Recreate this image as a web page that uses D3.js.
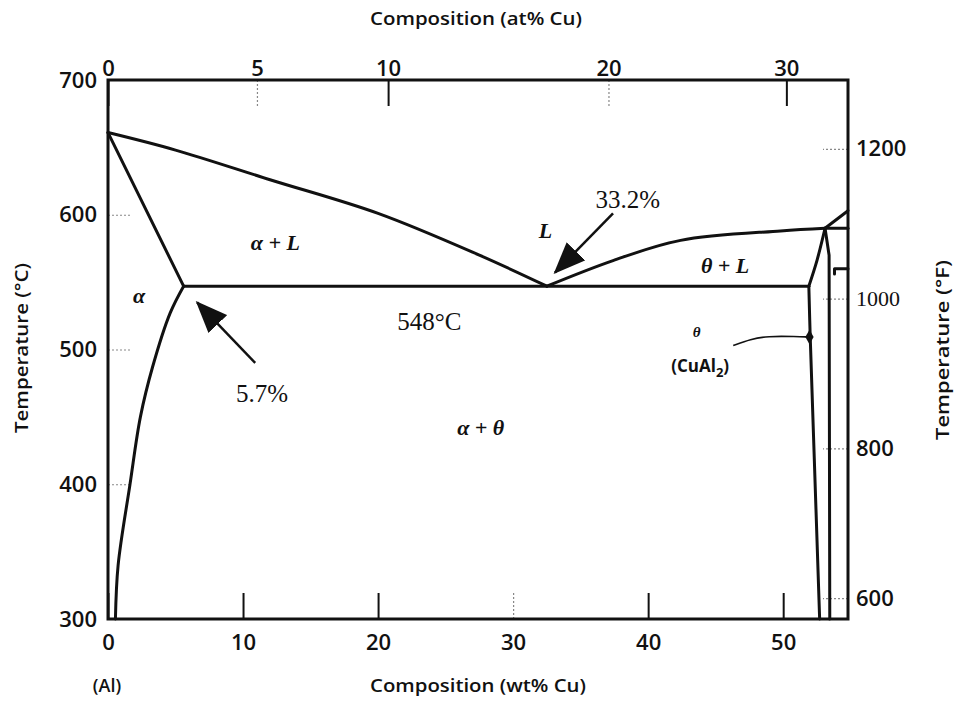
<!DOCTYPE html>
<html>
<head>
<meta charset="utf-8">
<title>Al-Cu phase diagram</title>
<script src="https://cdn.jsdelivr.net/npm/d3@7"></script>
<style>
    body { margin: 0; background: #fff; }
    text { font-family: "Open Sans", sans-serif; fill: #111; }
    .tick text { font-size: 22px; font-weight: 600; }
    .phase { fill: none; stroke: #111; stroke-width: 3; stroke-linejoin: round; stroke-linecap: round; }
    .serif { font-family: "Liberation Serif", serif; }
</style>
</head>
<body>
<div id="chart"></div>
<script>
    // tick values
    const wtTicks = [0, 10, 20, 30, 40, 50];
    const atTicks = [0, 5, 10, 20, 30];
    const cTicks = [300, 400, 500, 600, 700];
    const fTicks = [600, 800, 1000, 1200];

    // phase boundaries, [wt% Cu, temperature °C]
    const liquidusAl = [[0, 661], [5, 648], [12, 626], [20, 601], [27.5, 570], [32.5, 547]];
    const solidusAl = [[0, 661], [5.6, 547]];
    const solvusAl = [[5.6, 547], [4.6, 527], [3.3, 487], [2.4, 450], [1.63, 400], [0.75, 340], [0.55, 300]];
    const eutectic = [[5.6, 547], [51.9, 547]];
    const liquidusTheta = [[32.5, 547], [37.4, 566], [42.4, 581], [49.8, 588], [53.1, 590]];
    const thetaUpper = [[53.1, 590], [52.5, 566], [51.9, 547]];
    const thetaLeft = [[51.9, 547], [52.0, 510], [52.3, 420], [52.7, 300]];
    const thetaRight = [[53.1, 590], [53.4, 570], [53.45, 300]];
    const liquidusCu = [[53.1, 590], [54.8, 603]];
    const peritectic = [[53.1, 590], [54.8, 590]];
    const shortLine = [[53.8, 556], [53.8, 560], [54.8, 560]];

    // annotations
    const arrows = [
        {from: [10.9, 490], to: [6.6, 535]},
        {from: [37.4, 601], to: [33.1, 557]}
    ];
    const leader = [[46.3, 503], [47.6, 507.5], [48.8, 510], [51.0, 509.6], [51.8, 509.3]];
    const phaseLabels = [
        {text: 'α + L', at: [12.4, 574]},
        {text: 'L', at: [32.4, 583]},
        {text: 'θ + L', at: [45.7, 557]},
        {text: 'α', at: [2.3, 534.5]},
        {text: 'α + θ', at: [27.6, 436.5]}
    ];
    const valueLabels = [
        {text: '548°C', at: [23.8, 514.5]},
        {text: '5.7%', at: [11.4, 461]},
        {text: '33.2%', at: [38.5, 605]}
    ];

    const width = 959;
    const height = 701;

    const x = d3.scaleLinear().domain([0, 54.8]).range([108, 848]);
    const y = d3.scaleLinear().domain([300, 700]).range([619, 80]);
    const yF = d3.scaleLinear().domain([300 * 9 / 5 + 32, 700 * 9 / 5 + 32]).range([619, 80]);

    // at% -> wt% for the top axis
    const atToWt = a => 100 * a * 63.55 / (a * 63.55 + (100 - a) * 26.98);

    const svg = d3.select('#chart').append('svg').attr('width', width).attr('height', height);

    const defs = svg.append('defs');
    defs.append('marker')
        .attr('id', 'head')
        .attr('markerUnits', 'userSpaceOnUse')
        .attr('markerWidth', 32).attr('markerHeight', 26)
        .attr('refX', 30).attr('refY', 13)
        .attr('orient', 'auto')
        .append('path').attr('d', 'M0,0 L32,13 L0,26 Z').attr('fill', '#111');

    function styleTicks(g, dotted) {
        g.select('.domain').remove();
        g.selectAll('.tick line')
            .attr('stroke', '#111').attr('stroke-width', 2);
        g.selectAll('.tick').filter(dotted).select('line')
            .attr('stroke', '#888').attr('stroke-width', 1.2).attr('stroke-dasharray', '2,2');
    }

    // bottom axis (wt%)
    svg.append('g').attr('transform', 'translate(0,619)')
        .call(d3.axisBottom(x).tickValues(wtTicks).tickSizeInner(-26).tickSizeOuter(0).tickPadding(15))
        .call(g => styleTicks(g, d => d === 30));

    // top axis (at%)
    svg.append('g').attr('transform', 'translate(0,80)')
        .call(d3.axisTop(x).tickValues(atTicks.map(atToWt)).tickFormat((d, i) => atTicks[i])
            .tickSizeInner(-26).tickSizeOuter(0).tickPadding(4))
        .call(g => styleTicks(g, (d, i) => i === 1 || i === 3));

    // left axis (°C)
    svg.append('g').attr('transform', 'translate(108,0)')
        .call(d3.axisLeft(y).tickValues(cTicks).tickSizeInner(-24).tickSizeOuter(0).tickPadding(11))
        .call(g => styleTicks(g, () => true));

    // right axis (°F)
    svg.append('g').attr('transform', 'translate(848,0)')
        .call(d3.axisRight(yF).tickValues(fTicks).tickFormat(d3.format('d'))
            .tickSizeInner(-25).tickSizeOuter(0).tickPadding(8))
        .call(g => styleTicks(g, () => true));
    svg.selectAll('.tick text').filter(d => d === 1000).attr('class', 'serif').style('font-weight', 400);

    // frame
    svg.append('rect')
        .attr('x', x(0)).attr('y', y(700))
        .attr('width', x(54.8) - x(0)).attr('height', y(300) - y(700))
        .attr('fill', 'none').attr('stroke', '#111').attr('stroke-width', 3);

    // phase boundaries
    const smooth = d3.line().x(d => x(d[0])).y(d => y(d[1])).curve(d3.curveCatmullRom);
    const straight = d3.line().x(d => x(d[0])).y(d => y(d[1]));

    [liquidusAl, solvusAl, liquidusTheta, thetaUpper, thetaLeft].forEach(pts => {
        svg.append('path').attr('class', 'phase').attr('d', smooth(pts));
    });
    [solidusAl, eutectic, thetaRight, liquidusCu, peritectic].forEach(pts => {
        svg.append('path').attr('class', 'phase').attr('d', straight(pts));
    });
    svg.append('path').attr('class', 'phase').attr('stroke-width', 2).attr('d', straight(shortLine));

    // arrows
    arrows.forEach(a => {
        svg.append('line')
            .attr('x1', x(a.from[0])).attr('y1', y(a.from[1]))
            .attr('x2', x(a.to[0])).attr('y2', y(a.to[1]))
            .attr('stroke', '#111').attr('stroke-width', 2.5)
            .attr('marker-end', 'url(#head)');
    });

    // theta leader
    svg.append('path')
        .attr('d', d3.line().x(d => x(d[0])).y(d => y(d[1])).curve(d3.curveBasis)(leader))
        .attr('fill', 'none').attr('stroke', '#111').attr('stroke-width', 1.6);
    const dot = leader[leader.length - 1];
    svg.append('path')
        .attr('transform', `translate(${x(dot[0]) + 2},${y(dot[1])})`)
        .attr('d', d3.symbol(d3.symbolDiamond, 60)())
        .attr('fill', '#111');

    // labels
    svg.selectAll('.phase-label').data(phaseLabels).enter().append('text')
        .attr('class', 'serif')
        .attr('x', d => x(d.at[0])).attr('y', d => y(d.at[1]))
        .attr('text-anchor', 'middle')
        .style('font-size', '22px').style('font-style', 'italic').style('font-weight', 700)
        .text(d => d.text);

    svg.selectAll('.value-label').data(valueLabels).enter().append('text')
        .attr('class', 'serif')
        .attr('x', d => x(d.at[0])).attr('y', d => y(d.at[1]))
        .attr('text-anchor', 'middle')
        .style('font-size', '25px')
        .text(d => d.text);

    svg.append('text').attr('class', 'serif')
        .attr('x', x(43.6)).attr('y', y(509.5))
        .attr('text-anchor', 'middle')
        .style('font-size', '15px').style('font-style', 'italic').style('font-weight', 700)
        .text('θ');

    const cu = svg.append('text')
        .attr('x', x(43.85)).attr('y', y(483.5))
        .attr('text-anchor', 'middle')
        .style('font-size', '17px').style('font-weight', 700);
    cu.append('tspan').text('(CuAl');
    cu.append('tspan').attr('dy', 5).style('font-size', '13px').text('2');
    cu.append('tspan').attr('dy', -5).text(')');

    // axis titles
    svg.append('text')
        .attr('x', 476).attr('y', 25).attr('text-anchor', 'middle')
        .attr('textLength', 212).attr('lengthAdjust', 'spacingAndGlyphs')
        .style('font-size', '18px').style('font-weight', 600)
        .text('Composition (at% Cu)');

    svg.append('text')
        .attr('x', 478).attr('y', 692).attr('text-anchor', 'middle')
        .attr('textLength', 216).attr('lengthAdjust', 'spacingAndGlyphs')
        .style('font-size', '18px').style('font-weight', 600)
        .text('Composition (wt% Cu)');

    svg.append('text')
        .attr('x', 107).attr('y', 692).attr('text-anchor', 'middle')
        .style('font-size', '18px').style('font-weight', 600)
        .text('(Al)');

    svg.append('text')
        .attr('transform', 'translate(28,348) rotate(-90)')
        .attr('text-anchor', 'middle')
        .attr('textLength', 170).attr('lengthAdjust', 'spacingAndGlyphs')
        .style('font-size', '18px').style('font-weight', 600)
        .text('Temperature (°C)');

    svg.append('text')
        .attr('transform', 'translate(949,350) rotate(-90)')
        .attr('text-anchor', 'middle')
        .attr('textLength', 180).attr('lengthAdjust', 'spacingAndGlyphs')
        .style('font-size', '18px').style('font-weight', 600)
        .text('Temperature (°F)');
</script>
</body>
</html>
